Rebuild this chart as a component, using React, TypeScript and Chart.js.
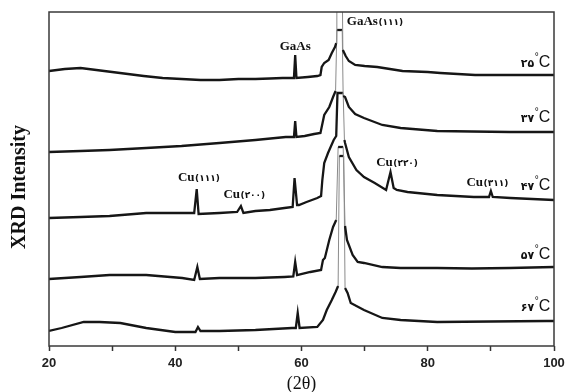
import React, { useEffect, useRef } from 'react';
import { Chart, registerables } from 'chart.js';

Chart.register(...registerables);

// ---- data (2θ in degrees, offset intensity in a.u.) ----
const temps = ['\u06F2\u06F5', '\u06F3\u06F7', '\u06F4\u06F7', '\u06F5\u06F7', '\u06F6\u06F7'];

const x25 = [20, 22.5, 25, 27.5, 30, 32.5, 35, 38, 41, 44, 47, 50, 52.7, 55, 57, 58.8, 59.0, 59.2, 61, 62.5, 63.0, 63.2, 63.6, 64.3, 64.8, 65.3, 65.5, 65.6, 66.4, 66.55, 67.0, 67.5, 68.5, 70, 72, 74, 76, 80, 82, 87.5, 93, 100];
const y25 = [275, 277, 278, 276, 274, 272, 270, 268, 267, 266, 266, 267, 267, 267.5, 268, 268, 291, 268, 269, 270, 271, 279, 283, 286, 293, 299, 303, 400, 400, 296, 290, 285, 281, 280, 279, 277, 275, 274, 273, 271, 271, 271];

const x37 = [20, 25, 29.6, 35.4, 41, 47, 52.7, 57.5, 58.8, 59.0, 59.2, 60.5, 62, 63.0, 63.1, 63.6, 64.4, 65.0, 65.4, 65.6, 66.45, 66.6, 66.9, 67.5, 68.5, 69.9, 72.8, 75.7, 81.5, 87, 93, 100];
const y37 = [194, 195, 196, 198, 200, 203, 206, 209, 209, 225, 209, 210, 212, 213, 216, 231, 239, 249, 255, 316, 316, 250, 249, 239, 232, 228, 221, 218, 215, 214.5, 214, 214];

const x47 = [20, 25, 29.6, 35.4, 41, 43.0, 43.4, 43.7, 47, 49.8, 50.4, 50.8, 52.7, 55, 57.3, 58.6, 58.9, 59.3, 59.6, 60.8, 62.5, 63.1, 63.3, 63.6, 64.2, 65.1, 65.5, 65.7, 66.6, 66.8, 66.9, 67.5, 68.7, 69.9, 71.6, 73.4, 74.1, 74.6, 75.1, 76.8, 81.5, 87.3, 89.7, 90.0, 90.3, 93.1, 100];
const y47 = [128, 129, 130, 133, 133, 133, 157, 132, 133, 134, 140, 133, 135, 136, 138, 139, 168, 141, 141, 144, 148, 150, 166, 183, 193, 206, 210, 253, 253, 206, 203, 189, 176, 169, 163, 156, 174, 158, 156, 154, 151, 149, 149, 155, 149, 148, 146];

const x57 = [20, 25, 29.6, 35.4, 41.1, 43.0, 43.5, 43.9, 47, 52.7, 57.3, 58.7, 59.0, 59.3, 61.4, 63.1, 63.4, 63.7, 64.4, 65.0, 65.5, 65.8, 66.6, 66.9, 67.2, 68.1, 68.9, 69.9, 72.8, 75.7, 81.5, 87, 93, 100];
const y57 = [67, 69, 71, 71, 68, 66, 79, 67, 68, 68, 69, 69.5, 84, 71, 74, 76, 86, 88, 106, 119, 126, 199, 199, 120, 106, 91, 84, 83, 79, 78, 78, 77.5, 78, 79];

const x67 = [20, 22, 25.5, 28, 31.3, 35.4, 40, 43.2, 43.6, 44.0, 47, 52.7, 58.5, 59.1, 59.4, 59.7, 62.5, 63.4, 64.0, 64.8, 65.4, 65.8, 66.0, 66.7, 66.9, 67.3, 67.8, 69.9, 72.8, 75.7, 81.5, 90, 98.8, 100];
const y67 = [15, 18, 24, 24, 23, 18, 14, 14, 19, 15, 15, 16, 18, 18, 33, 18, 19, 26, 36, 46, 54, 60, 190, 190, 58, 53, 43, 36, 28, 26, 24, 24.5, 25, 25];

const seriesX = [x25, x37, x47, x57, x67];
const seriesY = [y25, y37, y47, y57, y67];

const tempLabelX = 99.4;
const tempLabelY = [283, 228, 160, 91, 39];

const peakMain = ['GaAs', 'GaAs', 'Cu', 'Cu', 'Cu', 'Cu'];
const peakSub = ['', '(\u06F1\u06F1\u06F1)', '(\u06F1\u06F1\u06F1)', '(\u06F2\u06F0\u06F0)', '(\u06F2\u06F2\u06F0)', '(\u06F3\u06F1\u06F1)'];
const peakX = [59.0, 71.6, 43.7, 50.9, 75.1, 89.4];
const peakY = [299, 324, 168, 151, 183, 163];

const xMin = 20;
const xMax = 100;
const yMin = 0;
const yMax = 334;

const textPlugin = {
  id: 'xrdText',
  afterDraw(chart: any) {
    const { ctx, chartArea, scales } = chart;
    const xs = scales.x;
    const ys = scales.y;
    ctx.save();
    // frame
    ctx.strokeStyle = '#3a3a3a';
    ctx.lineWidth = 1.5;
    ctx.strokeRect(chartArea.left, chartArea.top, chartArea.right - chartArea.left, chartArea.bottom - chartArea.top);

    ctx.fillStyle = '#111';
    ctx.textBaseline = 'middle';
    // peak labels
    for (let i = 0; i < peakMain.length; i++) {
      const cx = xs.getPixelForValue(peakX[i]);
      const cy = ys.getPixelForValue(peakY[i]);
      ctx.font = 'bold 13px "Liberation Serif", "Times New Roman", serif';
      const wm = ctx.measureText(peakMain[i]).width;
      ctx.font = 'bold 9px "DejaVu Sans", sans-serif';
      const wsub = peakSub[i] ? ctx.measureText(peakSub[i]).width : 0;
      const start = cx - (wm + wsub) / 2;
      ctx.textAlign = 'left';
      ctx.font = 'bold 13px "Liberation Serif", "Times New Roman", serif';
      ctx.fillText(peakMain[i], start, cy);
      if (peakSub[i]) {
        ctx.font = 'bold 9px "DejaVu Sans", sans-serif';
        ctx.fillText(peakSub[i], start + wm + 0.5, cy + 1);
      }
    }
    // temperature labels
    for (let i = 0; i < temps.length; i++) {
      const rx = xs.getPixelForValue(tempLabelX);
      const cy = ys.getPixelForValue(tempLabelY[i]);
      ctx.textAlign = 'right';
      ctx.font = '16px "Liberation Sans", Arial, sans-serif';
      const wc = ctx.measureText('C').width;
      ctx.fillText('C', rx, cy);
      ctx.font = '10px "Liberation Sans", Arial, sans-serif';
      const wd = ctx.measureText('\u00B0').width;
      ctx.fillText('\u00B0', rx - wc, cy - 6);
      ctx.font = 'bold 11px "DejaVu Sans", sans-serif';
      ctx.fillText(temps[i], rx - wc - wd - 0.5, cy + 1);
    }
    // y title
    ctx.save();
    ctx.translate(20, 187);
    ctx.rotate(-Math.PI / 2);
    ctx.textAlign = 'center';
    ctx.font = 'bold 20px "Liberation Serif", "Times New Roman", serif';
    ctx.fillText('XRD Intensity', 0, 0);
    ctx.restore();
    // x title
    ctx.textAlign = 'center';
    ctx.font = '18px "Liberation Serif", "Times New Roman", serif';
    ctx.fillText('(2\u03B8)', (chartArea.left + chartArea.right) / 2, 384);
    ctx.restore();
  },
};

export default function App() {
  const ref = useRef<HTMLCanvasElement | null>(null);
  useEffect(() => {
    if (!ref.current) return;
    const datasets = seriesX.map((xsArr, i) => ({
      label: temps[i],
      data: xsArr.map((x, j) => ({ x, y: seriesY[i][j] })),
      borderColor: '#111',
      borderWidth: 2.3,
      pointRadius: 0,
      tension: 0,
      fill: false,
      segment: {
        borderColor: (c: any) => {
          const steep = Math.abs(c.p1.y - c.p0.y) > 45 && Math.abs(c.p1.x - c.p0.x) < 5;
          return steep ? '#8a8a8a' : '#161616';
        },
        borderWidth: (c: any) => {
          const steep = Math.abs(c.p1.y - c.p0.y) > 45 && Math.abs(c.p1.x - c.p0.x) < 5;
          return steep ? 1 : 2.3;
        },
      },
    }));
    const chart = new Chart(ref.current, {
      type: 'line',
      data: { datasets },
      options: {
        animation: false,
        responsive: true,
        maintainAspectRatio: false,
        layout: { padding: { left: 49, right: 16, top: 12, bottom: 0 } },
        plugins: { legend: { display: false }, tooltip: { enabled: false } },
        scales: {
          x: {
            type: 'linear',
            min: xMin,
            max: xMax,
            afterFit: (s: any) => { s.height = 46; },
            border: { display: false },
            grid: { display: true, drawOnChartArea: false, drawTicks: true, tickLength: 5, color: '#333', tickWidth: 1.5 },
            ticks: {
              stepSize: 10,
              autoSkip: false,
              maxRotation: 0,
              padding: 5,
              color: '#222',
              font: { family: '"Liberation Sans", Arial, sans-serif', size: 13, weight: 'bold' },
              callback: (v: any) => (Number(v) % 20 === 0 ? String(v) : ''),
            },
          },
          y: {
            display: false,
            min: yMin,
            max: yMax,
          },
        },
      },
      plugins: [textPlugin],
    });
    return () => chart.destroy();
  }, []);
  return (
    <div style={{ position: 'absolute', left: 0, top: 0, width: 570, height: 392, background: '#fff' }}>
      <canvas ref={ref} />
    </div>
  );
}
